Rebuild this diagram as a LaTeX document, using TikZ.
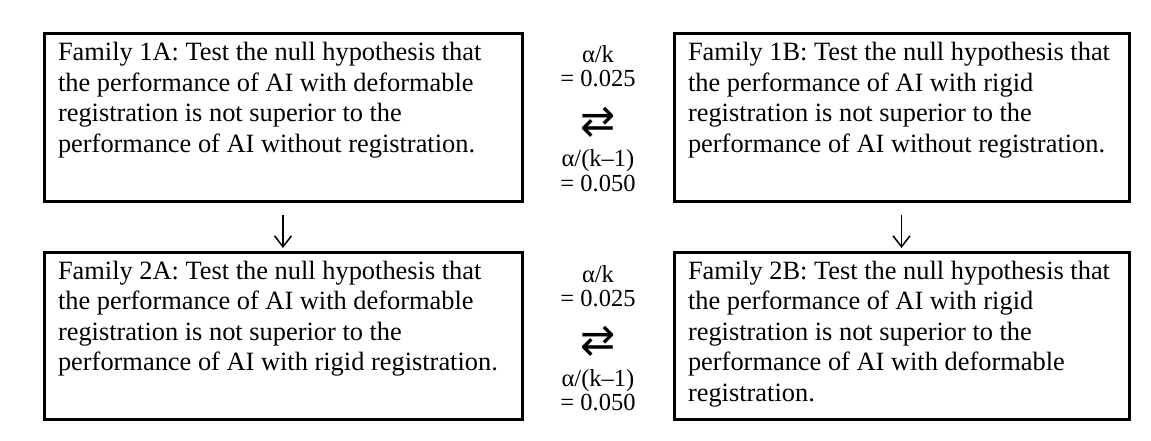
\documentclass[tikz,border=0pt]{standalone}
\usepackage{fontspec}
\setmainfont{Liberation Serif}
\newfontfamily\symfont{DejaVu Sans}
\usetikzlibrary{arrows.meta}

\newcommand{\famtext}[2]{\parbox[c][150pt][t]{#1}{\raggedright #2}}

\begin{document}
\begin{tikzpicture}[x=1pt,y=1pt,->,>={Straight Barb[length=11pt,width=17pt]},
                    line width=1.5pt, every node/.style={font=\fontsize{26.4}{30.5}\selectfont}]
  \tikzstyle{family}=[draw=black,line width=3pt,inner xsep=14pt,inner ysep=8.5pt]
  \tikzstyle{ratio}=[anchor=base,inner sep=0pt,font=\fontsize{24.5}{24.5}\selectfont]
  \tikzstyle{swap}=[inner sep=0pt,font=\symfont\fontsize{42}{42}\selectfont]
  \useasboundingbox (0,0) rectangle (1151,440);

  \node[family] (1A) at (283,322.5) {\famtext{450pt}{Family 1A: Test the null hypothesis that\\
    the performance of AI with deformable\\ registration is not superior to the\\
    performance of AI without registration.}};
  \node[family] (1B) at (901.5,322.5) {\famtext{427pt}{Family 1B: Test the null hypothesis that\\
    the performance of AI with rigid\\ registration is not superior to the\\
    performance of AI without registration.}};
  \node[family] (2A) at (283,104) {\famtext{450pt}{Family 2A: Test the null hypothesis that\\
    the performance of AI with deformable\\ registration is not superior to the\\
    performance of AI with rigid registration.}};
  \node[family] (2B) at (901.5,104) {\famtext{427pt}{Family 2B: Test the null hypothesis that\\
    the performance of AI with rigid\\ registration is not superior to the\\
    performance of AI with deformable\\ registration.}};

  % corrected alpha levels between the families
  \node[ratio] (k1)   at (598,377) {α/k};
  \node[ratio] (p1)   at (598,353) {= 0.025};
  \node[swap]  (sw1)  at (598,318) {⇄};
  \node[ratio] (km1)  at (598,273) {α/(k–1)};
  \node[ratio] (q1)   at (598,249) {= 0.050};

  \node[ratio] (k2)   at (598,158) {α/k};
  \node[ratio] (p2)   at (598,134) {= 0.025};
  \node[swap]  (sw2)  at (598,99)  {⇄};
  \node[ratio] (km2)  at (598,54)  {α/(k–1)};
  \node[ratio] (q2)   at (598,30)  {= 0.050};

  \draw[shorten <=12pt,shorten >=3pt] (1A) -- (2A);
  \draw[shorten <=12pt,shorten >=3pt] (1B) -- (2B);
\end{tikzpicture}
\end{document}
